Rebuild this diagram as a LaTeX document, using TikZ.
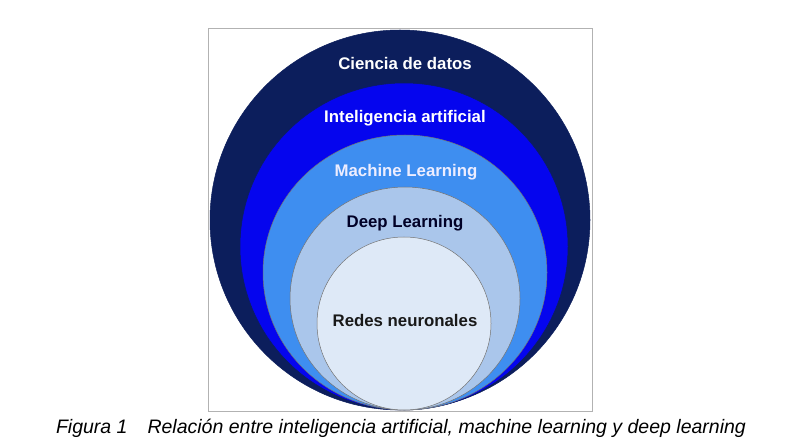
\documentclass[tikz,border=0pt]{standalone}
\usepackage{fontspec}
\setmainfont{Liberation Sans}
\usetikzlibrary{shapes.geometric}
\usetikzlibrary{positioning}
\definecolor{navy}{RGB}{12,30,92}
\definecolor{aiblue}{RGB}{5,5,238}
\definecolor{mlblue}{RGB}{62,142,240}
\definecolor{dlblue}{RGB}{170,198,235}
\definecolor{nnblue}{RGB}{222,233,247}
\tikzset{ring/.style={ellipse,inner sep=0pt,draw=black!55,line width=0.5pt},
  lbl/.style={font=\fontsize{16.8}{20}\selectfont\bfseries,anchor=base,inner sep=0pt}}

\begin{document}
\begin{tikzpicture}[x=1pt,y=-1pt]
\useasboundingbox (0,0) rectangle (800,446);
\fill[white] (0,0) rectangle (800,446);
\draw[black!30,line width=0.8pt] (208,28) rectangle (592,411);

\node (cd) at (400,220) [ring,fill=navy,draw=navy,minimum width=380pt,minimum height=380pt] {};
\node (ia) at (404,246.5) [ring,fill=aiblue,draw=navy,minimum width=328pt,minimum height=327pt] {};
\node (ml) at (405,272.5) [ring,fill=mlblue,minimum width=284pt,minimum height=275pt] {};
\node (dl) at (405,298.5) [ring,fill=dlblue,minimum width=230pt,minimum height=223pt] {};
\node (rn) at (404,323.5) [ring,fill=nnblue,minimum width=174pt,minimum height=173pt] {};

\node (cdn) at (405,70) [lbl,white] {Ciencia de datos};
\node (ian) at (405,123) [lbl,white] {Inteligencia artificial};
\node (mln) at (406,177) [lbl,white!93!blue] {Machine Learning};
\node (dln) at (405,228) [lbl,black!85!blue] {Deep Learning};
\node (rnn) at (405,326) [lbl,black!90] {Redes neuronales};

%caption under the frame
\node (cap) at (401,433) [anchor=base,inner sep=0pt,font=\fontsize{19.5}{22}\selectfont\itshape] {Figura 1\hspace{20pt}Relación entre inteligencia artificial, machine learning y deep learning};
\end{tikzpicture}
\end{document}
